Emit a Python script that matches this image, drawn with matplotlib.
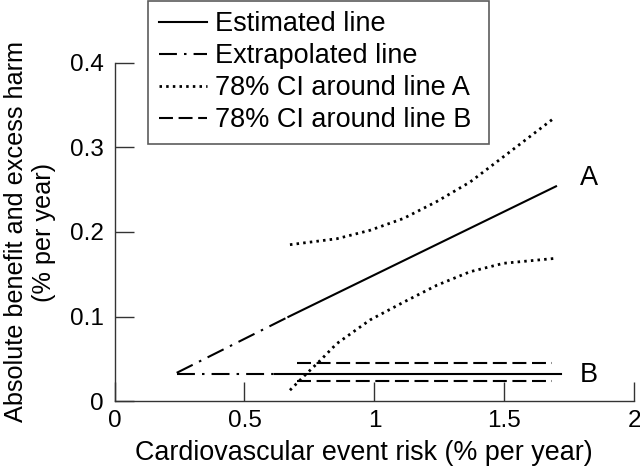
import matplotlib
matplotlib.use('Agg')
import matplotlib.pyplot as plt

plt.rcParams['font.family'] = ['Liberation Sans', 'DejaVu Sans']

# line A: estimated and extrapolated part
a_est_x = [0.669, 1.699]
a_est_y = [0.0997, 0.254]
a_ext_x = [0.239, 0.669]
a_ext_y = [0.0335, 0.0997]

# line B: estimated and extrapolated part
b_est_x = [0.618, 1.717]
b_est_y = [0.032, 0.032]
b_ext_x = [0.239, 0.618]
b_ext_y = [0.032, 0.032]

# 78% CI around line A
ci_a_x = [0.675, 0.855, 0.983, 1.112, 1.240, 1.368, 1.497, 1.689]
ci_a_upper = [0.185, 0.192, 0.202, 0.216, 0.236, 0.259, 0.289, 0.334]
ci_a_lx = [0.675, 0.727, 0.791, 0.855, 0.983, 1.112, 1.240, 1.368, 1.497, 1.702]
ci_a_lower = [0.013, 0.029, 0.048, 0.068, 0.096, 0.117, 0.137, 0.153, 0.163, 0.169]

# 78% CI around line B
ci_b_x = [0.701, 1.683]
ci_b_upper = [0.0457, 0.0457]
ci_b_lower = [0.0244, 0.0244]

x_ticks = [0, 0.5, 1, 1.5, 2]
x_tick_labels = ['0', '0.5', '1', '1.5', '2']
y_ticks = [0, 0.1, 0.2, 0.3, 0.4]
y_tick_labels = ['0', '0.1', '0.2', '0.3', '0.4']

LW = 1.5
FS = 19.5
dotted = (0, (0.9, 1.5))
dashed = (0, (6.7, 2.7))
dashdot = (0, (8.6, 3.4, 1.2, 3.4))

fig = plt.figure(figsize=(6.4, 4.72), dpi=100)
ax = fig.add_axes([0.179, 0.150, 0.812, 0.717])

l1, = ax.plot(a_est_x, a_est_y, color='black', lw=LW, label='Estimated line')
ax.plot(b_est_x, b_est_y, color='black', lw=LW)
l2, = ax.plot(a_ext_x, a_ext_y, color='black', lw=LW, linestyle=dashdot, label='Extrapolated line')
ax.plot(b_ext_x, b_ext_y, color='black', lw=LW, linestyle=dashdot)
l3, = ax.plot(ci_a_x, ci_a_upper, color='black', lw=2.0, linestyle=dotted, label='78% CI around line A')
ax.plot(ci_a_lx, ci_a_lower, color='black', lw=2.0, linestyle=dotted)
l4, = ax.plot(ci_b_x, ci_b_upper, color='black', lw=LW, linestyle=dashed, label='78% CI around line B')
ax.plot(ci_b_x, ci_b_lower, color='black', lw=LW, linestyle=dashed)

ax.text(1.825, 0.264, 'A', fontsize=FS, ha='center', va='center')
ax.text(1.825, 0.031, 'B', fontsize=FS, ha='center', va='center')

ax.set_xlim(0, 2)
ax.set_ylim(0, 0.4)
ax.set_xticks(x_ticks)
ax.set_xticklabels(x_tick_labels)
ax.set_yticks(y_ticks)
ax.set_yticklabels(y_tick_labels)
ax.tick_params(direction='in', length=13.5, width=1.0, color='#333333',
               labelsize=17.5, pad=8)
ax.tick_params(axis='x', pad=6)
for side in ['top', 'right']:
    ax.spines[side].set_visible(False)
for side in ['left', 'bottom']:
    ax.spines[side].set_color('#333333')
    ax.spines[side].set_linewidth(1.0)

ax.set_xlabel('Cardiovascular event risk (% per year)', fontsize=19.4, labelpad=6)
ax.xaxis.label.set_x(0.48)
ax.set_ylabel('Absolute benefit and excess harm\n(% per year)', fontsize=18.2, labelpad=10)

leg = fig.legend(handles=[l1, l2, l3, l4],
                 loc='upper left',
                 bbox_to_anchor=(147.7 / 640, 1 - 0.5 / 472, 341 / 640, 0.0),
                 bbox_transform=fig.transFigure,
                 mode='expand', borderaxespad=0,
                 fontsize=FS, handlelength=1.8, handletextpad=0.27,
                 borderpad=0.4, labelspacing=0.22,
                 fancybox=False, frameon=True)
leg.get_frame().set_edgecolor('#333333')
leg.get_frame().set_linewidth(1.2)

fig.savefig('out.png', dpi=100)
